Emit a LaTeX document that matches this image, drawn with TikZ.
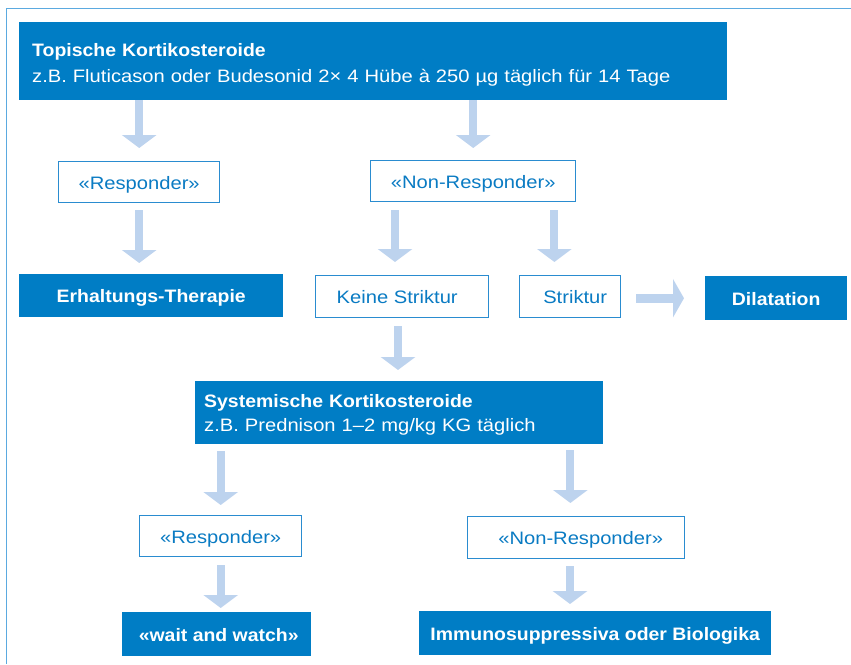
\documentclass[tikz,border=0pt]{standalone}
\usepackage{fontspec}
\setmainfont[FakeStretch=1.12,BoldFeatures={FakeStretch=1.08}]{Liberation Sans}
\usetikzlibrary{arrows.meta}
\definecolor{dblue}{HTML}{007DC5}
\definecolor{lblue}{HTML}{BDD3EE}
\definecolor{oblue}{HTML}{2A8CD0}
\definecolor{tblue}{HTML}{0A7BC3}
\definecolor{framec}{HTML}{5BAAE0}
\begin{document}
\begin{tikzpicture}[x=1pt,y=-1pt,font=\fontsize{18}{25}\selectfont,
  filled/.style={fill=dblue,text=white,font=\fontsize{18}{25}\selectfont\bfseries,anchor=north west,inner sep=0pt},
  outlined/.style={draw=oblue,line width=1.4pt,fill=white,text=tblue,anchor=north west,inner sep=0pt},
  oneline/.style={text height=14.4pt,text depth=0pt},
  bigarrow/.style={draw=lblue,line width=8pt,-{Triangle[width=34pt,length=13pt]},color=lblue},
  harrow/.style={draw=lblue,line width=9pt,-{Triangle[width=38pt,length=11pt]},color=lblue}]
\useasboundingbox (0,0) rectangle (851,664);
\draw[framec,line width=1.3pt] (851,8.5) -- (6.5,8.5) -- (6.5,664);

\node[filled,minimum height=78pt,text width=682pt,inner xsep=13pt,align=left] (top) at (19,22)
  {\rule{0pt}{19.9pt}Topische Kortikosteroide\\[1pt]\mdseries z.B. Fluticason oder Budesonid 2× 4 Hübe à 250 µg täglich für 14 Tage};
\node[outlined,oneline,minimum width=161pt,minimum height=41pt] (resp1) at (58,161) {«Responder»};
\node[outlined,oneline,minimum width=205pt,minimum height=41pt] (nr1) at (370,160) {«Non-Responder»};
\node[filled,oneline,minimum width=264pt,minimum height=43pt] (erh) at (19,274) {Erhaltungs-Therapie};
\node[outlined,oneline,minimum width=173pt,minimum height=42pt] (keine) at (315,275) {Keine Striktur\hspace*{10pt}};
\node[outlined,oneline,minimum width=101pt,minimum height=42pt] (strik) at (519,275) {\hspace*{10pt}Striktur};
\node[filled,oneline,minimum width=142pt,minimum height=44pt] (dil) at (705,276) {Dilatation};
\node[filled,minimum height=63pt,text width=390pt,inner xsep=9pt,align=left] (sys) at (195,381)
  {\rule{0pt}{16.8pt}Systemische Kortikosteroide\\[-1pt]\mdseries z.B. Prednison 1–2 mg/kg KG täglich};
\node[outlined,oneline,minimum width=162pt,minimum height=41pt] (resp2) at (139,515) {«Responder»};
\node[outlined,oneline,minimum width=217pt,minimum height=42pt] (nr2) at (467,516) {\hspace*{9pt}«Non-Responder»};
\node[filled,oneline,minimum width=189pt,minimum height=44pt] (wait) at (122,612) {\hspace*{4pt}«wait and watch»};
\node[filled,oneline,minimum width=352pt,minimum height=44pt] (imm) at (419,611) {Immunosuppressiva oder Biologika};

\coordinate (a4) at ([xshift=25pt]nr1.south west);
\coordinate (a5) at ([xshift=-22pt]nr1.south east);
\coordinate (a6) at ([xshift=83pt]keine.south west);
\coordinate (a8) at ([xshift=-33pt]sys.south east);
\coordinate (a10) at ([xshift=103pt]nr2.south west);

\draw[bigarrow,shorten >=13pt] (top.south -| resp1.north) -- (resp1.north);
\draw[bigarrow,shorten >=12pt] (top.south -| nr1.north) -- (nr1.north);
\draw[bigarrow,shorten <=7pt,shorten >=11pt] (resp1.south) -- (resp1.south |- erh.north);
\draw[bigarrow,shorten <=8pt,shorten >=13pt] (a4) -- (a4 |- keine.north);
\draw[bigarrow,shorten <=8pt,shorten >=13pt] (a5) -- (a5 |- strik.north);
\draw[harrow,shorten <=15pt,shorten >=21pt] (strik.east |- dil.west) -- (dil.west);
\draw[bigarrow,shorten <=8pt,shorten >=11pt] (a6) -- (a6 |- sys.north);
\draw[bigarrow,shorten <=7pt,shorten >=10pt] (sys.south -| resp2.north) -- (resp2.north);
\draw[bigarrow,shorten <=6pt,shorten >=13pt] (a8) -- (a8 |- nr2.north);
\draw[bigarrow,shorten <=8pt,shorten >=4pt] (resp2.south) -- (resp2.south |- wait.north);
\draw[bigarrow,shorten <=7pt,shorten >=7pt] (a10) -- (a10 |- imm.north);
\end{tikzpicture}
\end{document}
